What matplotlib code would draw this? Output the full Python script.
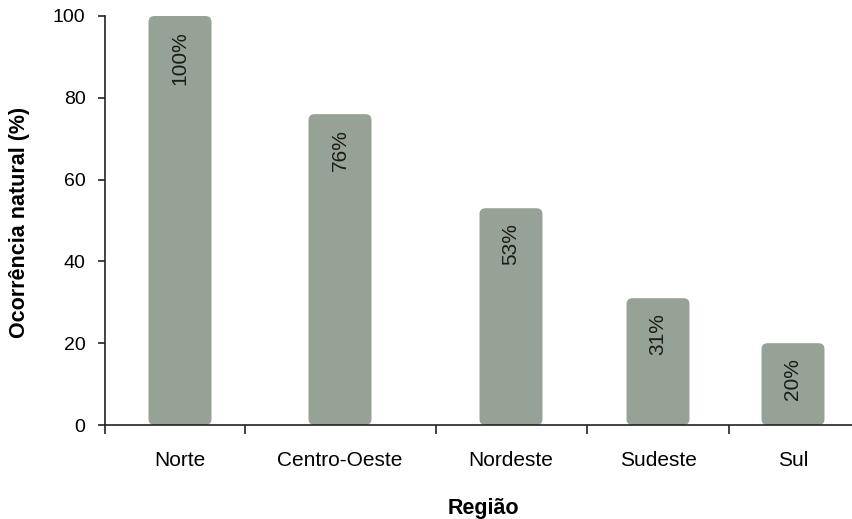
import matplotlib.pyplot as plt
from matplotlib.patches import FancyBboxPatch

plt.rcParams['font.family'] = ['Liberation Sans', 'DejaVu Sans']

# dados
regioes = ["Norte", "Centro-Oeste", "Nordeste", "Sudeste", "Sul"]
ocorrencia = [100, 76, 53, 31, 20]
rotulos = ["100%", "76%", "53%", "31%", "20%"]

# posições no eixo x (espaçamento desigual como no original)
limites = [0, 140, 331, 482, 624, 748]
centros = [75, 235, 406, 553, 688]
largura_barra = 63
cor_barra = "#97a296"

fig = plt.figure(figsize=(8.53, 5.19), dpi=100)
ax = fig.add_axes([105 / 853, 1 - 425 / 519, 748 / 853, 409 / 519])

ax.set_xlim(limites[0], limites[-1])
ax.set_ylim(0, 100)

bars = ax.bar(centros, ocorrencia, width=largura_barra, color=cor_barra)

# trocar retângulos por barras com cantos arredondados
aspecto = 100 / 409
for b in bars:
    x, y = b.get_xy()
    p = FancyBboxPatch((x, y), b.get_width(), b.get_height(),
                       boxstyle="round,pad=0,rounding_size=6",
                       mutation_aspect=aspecto,
                       facecolor=cor_barra, edgecolor="none", zorder=2)
    ax.add_patch(p)
    b.remove()

for xc, v, rot in zip(centros, ocorrencia, rotulos):
    ax.annotate(rot, (xc, v), xytext=(0, -11), textcoords="offset points",
                rotation=90, ha="center", va="top", fontsize=15, color="#1a1a1a")

ax.spines["top"].set_visible(False)
ax.spines["right"].set_visible(False)
for s in ["left", "bottom"]:
    ax.spines[s].set_color("#222222")
    ax.spines[s].set_linewidth(1.2)

ax.set_yticks([0, 20, 40, 60, 80, 100])
ax.set_xticks(limites[:-1])
ax.set_xticklabels([])
ax.set_xticks(centros, minor=True)
ax.set_xticklabels(regioes, minor=True, fontsize=15)
ax.tick_params(axis="x", which="minor", length=0, pad=19)
ax.tick_params(axis="x", which="major", length=6.5, width=1.2, color="#222222")
ax.tick_params(axis="y", length=5, width=1.2, color="#222222", labelsize=14, pad=9)

ax.set_xlabel("Região", fontsize=15.5, fontweight="bold")
ax.xaxis.set_label_coords((483 - 105) / 748, -(498 - 425) / 409)
ax.set_ylabel("Ocorrência natural (%)", fontsize=15.5, fontweight="bold")
ax.yaxis.set_label_coords(-(105 - 30) / 748, (425 - 222) / 409)

fig.savefig("out.png", dpi=100)
